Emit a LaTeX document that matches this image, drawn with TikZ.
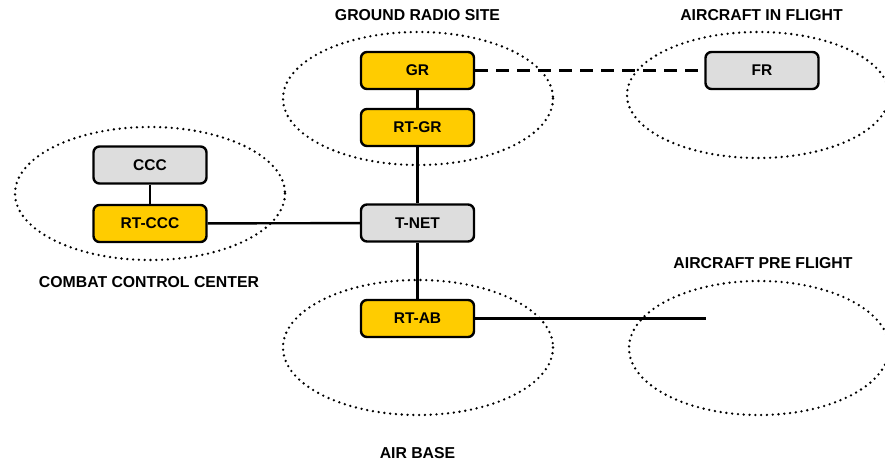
\documentclass[tikz,border=0pt]{standalone}
\usepackage{fontspec}
\setmainfont{Liberation Sans}
\usepackage{xcolor}
\definecolor{yellowbox}{HTML}{FFCC00}
\definecolor{graybox}{HTML}{DDDDDD}

\begin{document}
\begin{tikzpicture}[x=1pt,y=-1pt,
    unit/.style={draw=black,line width=2.4pt,rounded corners=6pt,minimum width=113pt,minimum height=37pt,inner sep=0pt,font=\fontsize{15.5}{18}\selectfont\bfseries},
    rt/.style={unit,fill=yellowbox},
    hub/.style={unit,fill=graybox},
    zone/.style={line width=2.6pt,line cap=round,dash pattern=on 0pt off 5.8pt},
    title/.style={font=\fontsize{15.8}{18}\selectfont\bfseries},
    link/.style={line width=2.4pt}]
    \useasboundingbox (0,0) rectangle (885,462);
    % zones
    \draw[zone] (418,98.5) ellipse [x radius=135,y radius=66.5];
    \draw[zone] (758,95) ellipse [x radius=131,y radius=63];
    \draw[zone] (150,193.5) ellipse [x radius=135,y radius=66.5];
    \draw[zone] (418,347.5) ellipse [x radius=135,y radius=67.5];
    \draw[zone] (759,348) ellipse [x radius=130,y radius=67];
    \node[title] (lgrs) at (417.5,15) {GROUND RADIO SITE};
    \node[title] (laif) at (761.5,15) {AIRCRAFT IN FLIGHT};
    \node[title] (lccc) at (149,282) {COMBAT CONTROL CENTER};
    \node[title] (lapf) at (763,263) {AIRCRAFT PRE FLIGHT};
    \node[title] (lab) at (417.5,453) {AIR BASE};
    % units
    \node[rt] (gr) at (417.5,70.5) {GR};
    \node[rt] (rtgr) at (417.5,127.5) {RT-GR};
    \node[hub] (fr) at (762,70.5) {FR};
    \node[hub] (ccc) at (150,165) {CCC};
    \node[rt] (rtccc) at (150,223.5) {RT-CCC};
    \node[hub] (tnet) at (417.5,223) {T-NET};
    \node[rt] (rtab) at (417.5,318.5) {RT-AB};
    \coordinate (apf) at (706,318.5);
    % links
    \draw[link] (gr) -- (rtgr);
    \draw[link] (rtgr) -- (tnet);
    \draw[link] (ccc) -- (rtccc);
    \draw[link] (rtccc) -- (tnet);
    \draw[link] (tnet) -- (rtab);
    \draw[link] (rtab) -- (apf);
    \draw[line width=3pt,dash pattern=on 13pt off 8pt] (gr) -- (fr);
\end{tikzpicture}
\end{document}
